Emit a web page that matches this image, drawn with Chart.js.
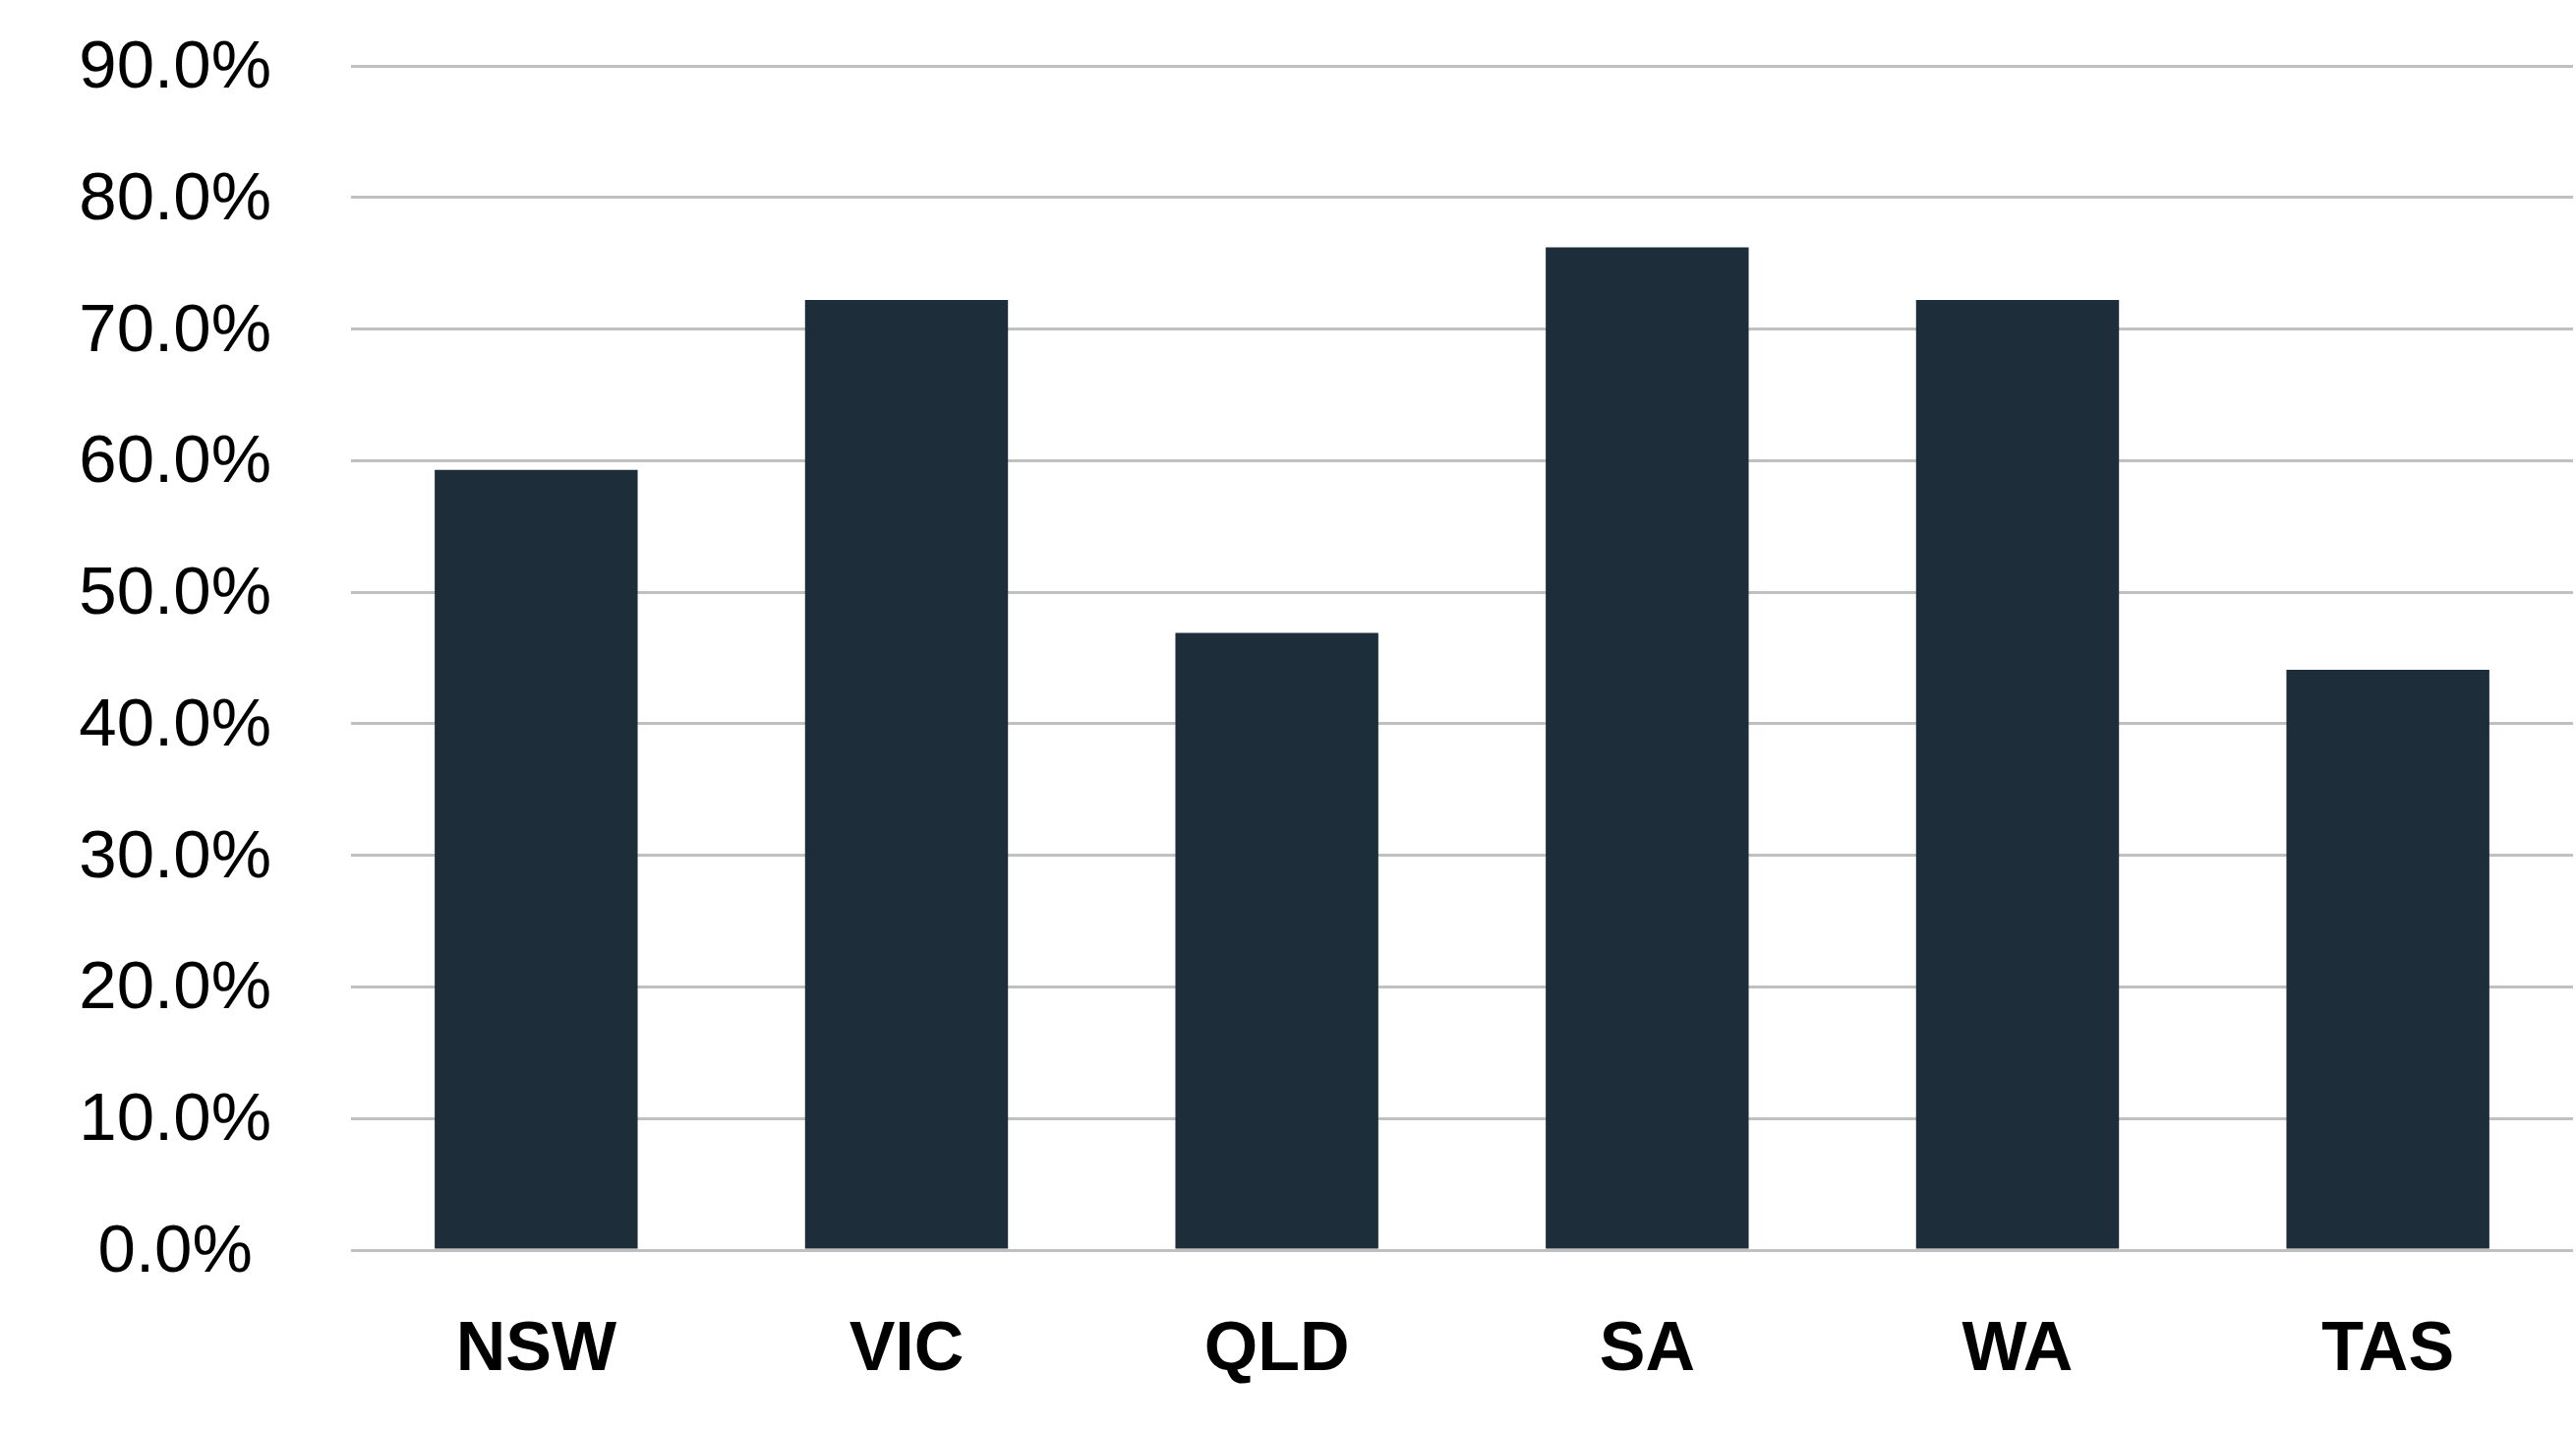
<!DOCTYPE html>
<html>
<head>
<meta charset="utf-8">
<script src="https://cdn.jsdelivr.net/npm/chart.js@4.4.1/dist/chart.umd.min.js"></script>
<style>
    html, body { margin: 0; padding: 0; background: #ffffff; }
    #wrap { width: 2620px; height: 1458px; position: relative; }
</style>
</head>
<body>
<div id="wrap"><canvas id="stateChart"></canvas></div>
<script>
// Share by state (%)
const states = ['NSW', 'VIC', 'QLD', 'SA', 'WA', 'TAS'];
const shares = [59.3, 72.2, 46.9, 76.2, 72.2, 44.1];
const yMin = 0;
const yMax = 90;
const yStep = 10;

const BAR_COLOUR = '#1d2d3a';
const GRID_COLOUR = '#c0c0c0';

// fixed axis sizes so the plot area lands where the original one is
const Y_AXIS_WIDTH = 357;
const X_AXIS_HEIGHT = 187;

function formatPercent(value) {
    return Number(value).toFixed(1) + '%';
}

const ctx = document.getElementById('stateChart').getContext('2d');

new Chart(ctx, {
    type: 'bar',
    data: {
        labels: states,
        datasets: [{
            data: shares,
            backgroundColor: BAR_COLOUR,
            borderWidth: 0,
            categoryPercentage: 1.0,
            barPercentage: 0.548
        }]
    },
    options: {
        responsive: true,
        maintainAspectRatio: false,
        animation: false,
        layout: {
            padding: { top: 67, bottom: 0, left: 0, right: 3 }
        },
        plugins: {
            legend: { display: false },
            tooltip: { enabled: false }
        },
        scales: {
            x: {
                grid: { display: false, drawTicks: false },
                border: { display: false },
                ticks: {
                    color: '#000000',
                    padding: 61,
                    font: { family: '"Liberation Sans", Arial, sans-serif', size: 70, weight: 'bold' }
                },
                afterFit: (scale) => {
                    scale.height = X_AXIS_HEIGHT;
                    scale.paddingLeft = 0;
                    scale.paddingRight = 0;
                }
            },
            y: {
                min: yMin,
                max: yMax,
                grid: { color: GRID_COLOUR, lineWidth: 3, drawTicks: false },
                border: { display: false },
                ticks: {
                    stepSize: yStep,
                    color: '#000000',
                    padding: 81,
                    labelOffset: 3,
                    crossAlign: 'center',
                    font: { family: '"Liberation Sans", Arial, sans-serif', size: 69 },
                    callback: formatPercent
                },
                afterFit: (scale) => {
                    scale.width = Y_AXIS_WIDTH;
                    scale.paddingTop = 0;
                    scale.paddingBottom = 0;
                }
            }
        }
    }
});
</script>
</body>
</html>
